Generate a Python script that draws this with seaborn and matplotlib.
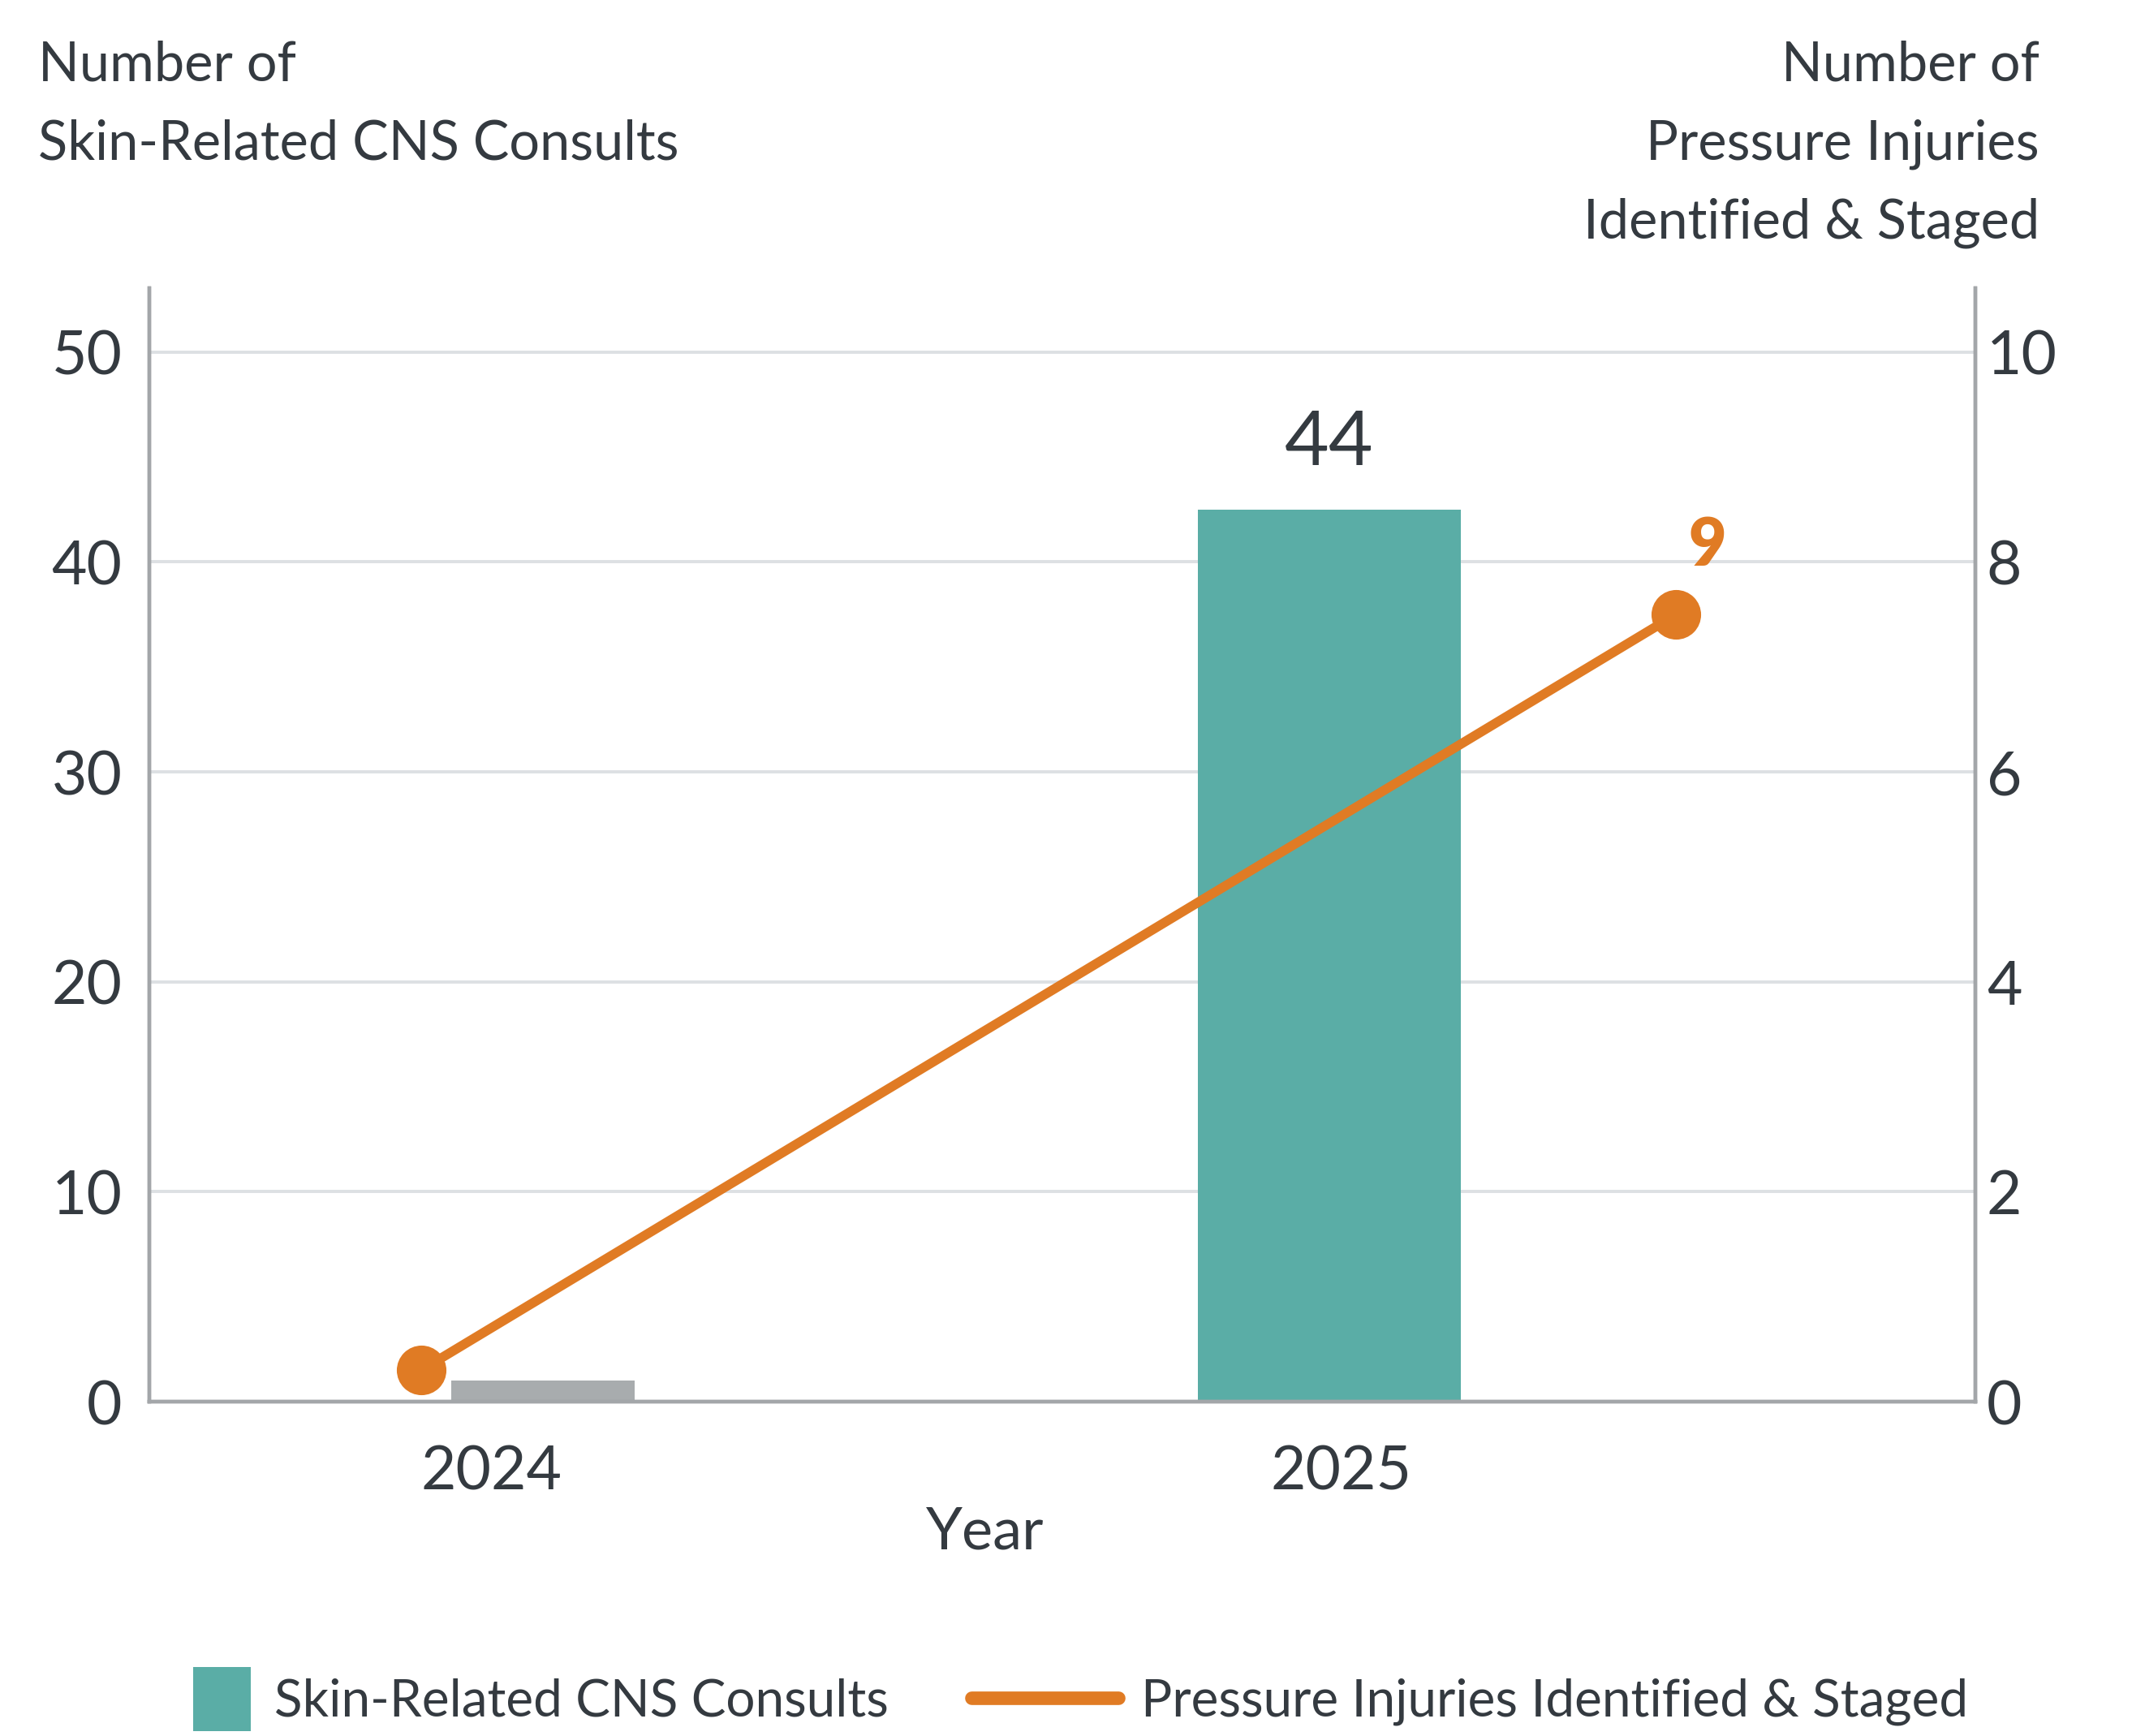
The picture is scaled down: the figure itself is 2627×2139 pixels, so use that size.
import matplotlib
matplotlib.use("Agg")
import matplotlib.pyplot as plt
import seaborn as sns
import pandas as pd
from matplotlib.patches import Rectangle, Patch
from matplotlib.lines import Line2D
from matplotlib.legend_handler import HandlerPatch

# ---- data ----
years = ["2024", "2025"]
consults = [1.0, 42.5]            # bar heights as drawn
consult_labels = ["", "44"]       # printed labels
injuries = [0.3, 7.5]             # line values as drawn (right axis)
injury_labels = ["", "9"]
left_ticks = [0, 10, 20, 30, 40, 50]
right_ticks = [0, 2, 4, 6, 8, 10]

# ---- layout / style ----
bar_centers = [0.06, 0.986]
bar_widths = [0.216, 0.309]
line_x_pos = [-0.083, 1.394]
TEAL = "#5aada6"
GRAY = "#a8acae"
ORANGE = "#e07b24"
TEXT = "#343a40"
SPINE = "#a3a6a9"
GRID = "#dde0e3"

sns.set_theme(style="white")
plt.rcParams["font.family"] = ["Lato", "DejaVu Sans"]

fig = plt.figure(figsize=(26.27 / 2, 21.39 / 2), dpi=200)
ax = fig.add_axes([0.070, 0.1926, 0.8565, 0.6414])

df = pd.DataFrame({"Year": years, "Consults": consults})
sns.barplot(data=df, x="Year", y="Consults", hue="Year",
            palette=[GRAY, TEAL], legend=False, ax=ax, saturation=1)
for patch, c, w in zip(ax.patches, bar_centers, bar_widths):
    patch.set_x(c - w / 2)
    patch.set_width(w)
    patch.set_edgecolor("none")

ax.set_xlim(-0.403, 1.746)
ax.set_ylim(0, 53.04)
ax.set_yticks(left_ticks)
ax.set_xticks([0, 1])
ax.set_xticklabels(years)
ax.set_xlabel("")
ax.set_ylabel("")
ax.yaxis.grid(True, color=GRID, linewidth=1.4)
ax.set_axisbelow(True)
ax.tick_params(axis="y", length=0, pad=12, labelsize=27, labelcolor=TEXT)
ax.tick_params(axis="x", length=0, pad=19, labelsize=27, labelcolor=TEXT)
for s in ["left", "right", "bottom"]:
    ax.spines[s].set_color(SPINE)
    ax.spines[s].set_linewidth(1.6)
ax.spines["top"].set_visible(False)

for c, h, lab in zip(bar_centers, consults, consult_labels):
    if lab:
        ax.annotate(lab, (c, h), xytext=(0, 29), textcoords="offset points",
                    ha="center", va="center", fontsize=34, color=TEXT)

ax2 = ax.twinx()
ldf = pd.DataFrame({"x": line_x_pos, "Injuries": injuries})
sns.lineplot(data=ldf, x="x", y="Injuries", ax=ax2, color=ORANGE,
             linewidth=4.2, marker="o", markersize=22, markeredgewidth=0)
ax2.set_ylim(0, 10.608)
ax2.set_yticks(right_ticks)
ax2.set_xlim(-0.403, 1.746)
ax2.set_ylabel("")
ax2.set_xlabel("")
ax2.grid(False)
ax2.tick_params(axis="y", length=0, pad=5, labelsize=27, labelcolor=TEXT)
for s in ["left", "right", "bottom"]:
    ax2.spines[s].set_color(SPINE)
    ax2.spines[s].set_linewidth(1.6)
ax2.spines["top"].set_visible(False)

for x, v, lab in zip(line_x_pos, injuries, injury_labels):
    if lab:
        ax2.annotate(lab, (x, v), xytext=(14, 30), textcoords="offset points",
                     ha="center", va="center", fontsize=29, color=ORANGE,
                     fontweight="heavy")

fig.text(0.018, 0.977, "Number of\nSkin-Related CNS Consults", ha="left",
         va="top", fontsize=24, color=TEXT, linespacing=1.70)
fig.text(0.9566, 0.977, "Number of\nPressure Injuries\nIdentified & Staged",
         ha="right", va="top", fontsize=24, color=TEXT, linespacing=1.70,
         multialignment="right")
fig.text(0.462, 0.1173, "Year", ha="center", va="center", fontsize=26, color=TEXT)


class HandlerBox(HandlerPatch):
    def create_artists(self, legend, orig_handle, xdescent, ydescent, width,
                       height, fontsize, trans):
        w = width * 0.39
        r = Rectangle((xdescent + width - w, -ydescent - height * 0.4),
                      w, height * 1.75, facecolor=TEAL, edgecolor="none",
                      transform=trans)
        return [r]


handles = [Patch(facecolor=TEAL), Line2D([], [], color=ORANGE, linewidth=6)]
fig.legend(handles, ["Skin-Related CNS Consults",
                     "Pressure Injuries Identified & Staged"],
           loc="center", bbox_to_anchor=(0.486, 0.0196), ncol=2, frameon=False,
           fontsize=23, handlelength=2.83, columnspacing=1.6, handletextpad=0.45,
           labelcolor=TEXT, handler_map={Patch: HandlerBox()})

fig.savefig("out.png", dpi=200)
